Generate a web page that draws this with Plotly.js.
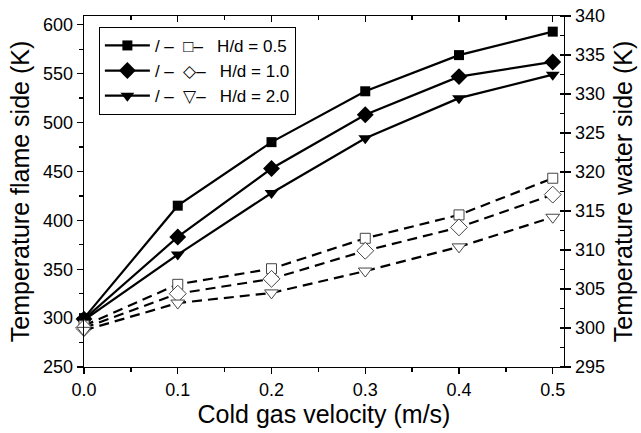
<!DOCTYPE html>
<html>
<head>
<meta charset="utf-8">
<script src="https://cdn.plot.ly/plotly-3.0.1.min.js"></script>
<style>html,body{margin:0;padding:0;background:#fff;}#chart{width:641px;height:433px;}</style>
</head>
<body>
<div id="chart"></div>
<script>
// Data
const velocity = [0.0, 0.1, 0.2, 0.3, 0.4, 0.5];
const flameHd05 = [300, 415, 480, 532, 569, 593];
const flameHd10 = [299, 383, 453, 508, 547, 562];
const flameHd20 = [298, 365, 428, 484, 525, 549];
const waterHd05 = [300.3, 305.6, 307.6, 311.5, 314.5, 319.2];
const waterHd10 = [300.0, 304.4, 306.3, 309.9, 312.9, 317.1];
const waterHd20 = [299.7, 303.2, 304.5, 307.3, 310.4, 314.2];
const seriesNames = ['H/d = 0.5', 'H/d = 1.0', 'H/d = 2.0'];
const xTickLabels = ['0.0', '0.1', '0.2', '0.3', '0.4', '0.5'];
const openGlyphs = ['\u25A1', '\u25C7', '\u25BD'];

const nb = '\u00a0';
function legendName(i) {
  return '/' + nb + '\u2013' + nb + nb + openGlyphs[i] + '\u2013' + nb + nb + nb + seriesNames[i];
}

const flame = [flameHd05, flameHd10, flameHd20];
const water = [waterHd05, waterHd10, waterHd20];
const filledSym = ['square', 'diamond', 'triangle-down'];
const openSym = ['square', 'diamond', 'triangle-down'];
const fSize = [10, 13, 12];
const oSize = [10, 13, 12];

const traces = [];
for (let i = 0; i < 3; i++) {
  traces.push({
    x: velocity, y: water[i], xaxis: 'x', yaxis: 'y2',
    mode: 'lines+markers', showlegend: false, hoverinfo: 'skip',
    line: {color: '#000', width: 2.2, dash: '10px,6px'},
    marker: {symbol: openSym[i], size: oSize[i], color: '#fff', line: {color: '#444', width: 1}},
    cliponaxis: false
  });
}
for (let i = 0; i < 3; i++) {
  traces.push({
    x: velocity, y: flame[i], xaxis: 'x', yaxis: 'y',
    name: legendName(i),
    mode: 'lines+markers',
    line: {color: '#000', width: 2.2},
    marker: {symbol: filledSym[i], size: fSize[i], color: '#000'},
    cliponaxis: false
  });
}
// invisible helper trace for the mirrored top axis
traces.push({
  x: velocity, y: flameHd05, xaxis: 'x2', yaxis: 'y',
  mode: 'lines', line: {width: 0}, showlegend: false, hoverinfo: 'skip', opacity: 0
});

const tickFont = {family: 'Liberation Sans, Arial, sans-serif', size: 18, color: '#000'};
const titleFont = {family: 'Liberation Sans, Arial, sans-serif', size: 25, color: '#000'};

const layout = {
  width: 641, height: 433,
  margin: {l: 84, r: 77, t: 16, b: 66},
  paper_bgcolor: '#fff', plot_bgcolor: '#fff',
  showlegend: true,
  legend: {
    x: 0.031, y: 0.969, xanchor: 'left', yanchor: 'top',
    bordercolor: '#000', borderwidth: 1, bgcolor: '#fff',
    font: {family: 'Liberation Sans, Arial, sans-serif', size: 17, color: '#000'},
    tracegroupgap: 0, itemwidth: 45
  },
  xaxis: {
    range: [0, 0.512], tickvals: velocity, ticktext: xTickLabels,
    showgrid: false, zeroline: false, showline: true, linecolor: '#000', linewidth: 1.3,
    ticks: 'outside', ticklen: 6, tickwidth: 1.3, tickcolor: '#000',
    minor: {dtick: 0.05, tick0: 0, ticks: 'outside', ticklen: 4, tickwidth: 1.3, tickcolor: '#000', showgrid: false},
    tickfont: tickFont,
    title: {text: 'Cold gas velocity (m/s)', font: titleFont, standoff: 3}
  },
  xaxis2: {
    range: [0, 0.512], overlaying: 'x', side: 'top', anchor: 'y',
    tickvals: velocity, showticklabels: false,
    showgrid: false, zeroline: false, showline: true, linecolor: '#000', linewidth: 1.3,
    ticks: 'inside', ticklen: 6, tickwidth: 1.3, tickcolor: '#000',
    minor: {dtick: 0.05, tick0: 0, ticks: 'inside', ticklen: 4, tickwidth: 1.3, tickcolor: '#000', showgrid: false}
  },
  yaxis: {
    range: [250, 609], tick0: 250, dtick: 50,
    showgrid: false, zeroline: false, showline: true, linecolor: '#000', linewidth: 1.3,
    ticks: 'outside', ticklen: 6, tickwidth: 1.3, tickcolor: '#000',
    minor: {dtick: 25, tick0: 250, ticks: 'outside', ticklen: 4, tickwidth: 1.3, tickcolor: '#000', showgrid: false},
    tickfont: tickFont,
    title: {text: 'Temperature flame side (K)', font: titleFont, standoff: 6}
  },
  yaxis2: {
    range: [295, 340], tick0: 295, dtick: 5, overlaying: 'y', side: 'right', anchor: 'x',
    showgrid: false, zeroline: false, showline: true, linecolor: '#000', linewidth: 1.3,
    ticks: 'outside', ticklen: 6, tickwidth: 1.3, tickcolor: '#000',
    minor: {dtick: 2.5, tick0: 295, ticks: 'inside', ticklen: 4, tickwidth: 1.3, tickcolor: '#000', showgrid: false},
    tickfont: tickFont,
    title: {text: 'Temperature water side (K)', font: titleFont, standoff: 10}
  }
};

Plotly.newPlot('chart', traces, layout, {displayModeBar: false, staticPlot: true});
</script>
</body>
</html>
